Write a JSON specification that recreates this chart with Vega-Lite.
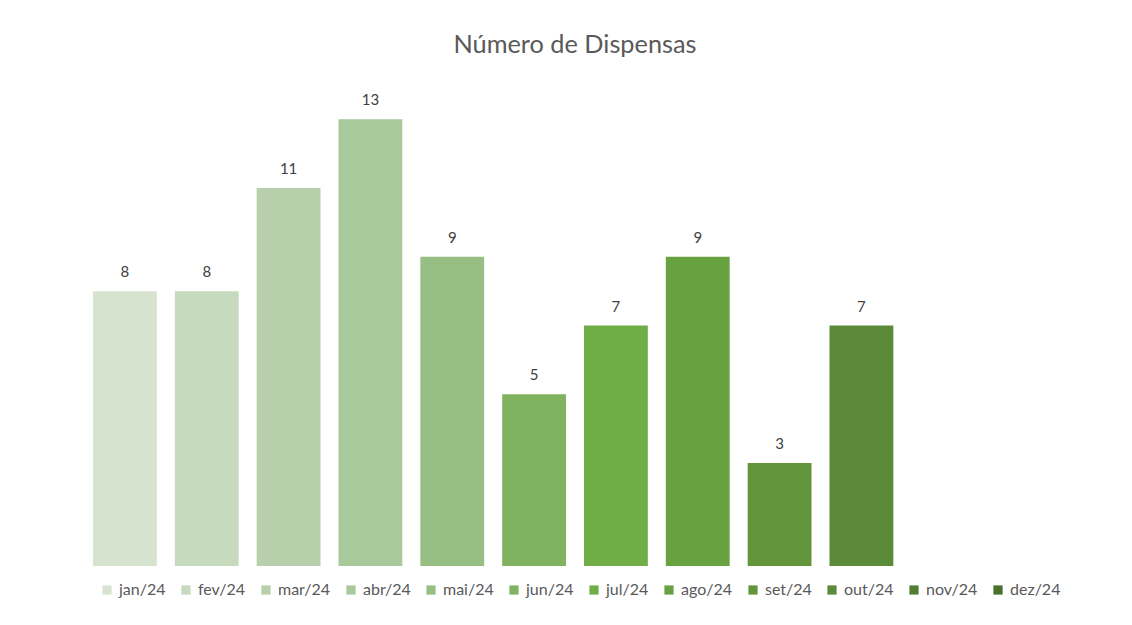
{
  "$schema": "https://vega.github.io/schema/vega-lite/v6.json",
  "width": 982,
  "height": 481,
  "autosize": {"type": "none"},
  "padding": {"left": 84, "top": 85, "right": 66, "bottom": 59},
  "background": "white",
  "title": {"text": "Número de Dispensas", "fontSize": 25.3, "font": "Lato", "fontWeight": "normal", "color": "#595959", "offset": 27, "anchor": "middle"},
  "config": {"view": {"stroke": null}},
  "data": {"values": [
    {"mes": "jan/24", "valor": 8},
    {"mes": "fev/24", "valor": 8},
    {"mes": "mar/24", "valor": 11},
    {"mes": "abr/24", "valor": 13},
    {"mes": "mai/24", "valor": 9},
    {"mes": "jun/24", "valor": 5},
    {"mes": "jul/24", "valor": 7},
    {"mes": "ago/24", "valor": 9},
    {"mes": "set/24", "valor": 3},
    {"mes": "out/24", "valor": 7},
    {"mes": "nov/24", "valor": null},
    {"mes": "dez/24", "valor": null}
  ]},
  "encoding": {
    "x": {"field": "mes", "type": "nominal", "sort": null, "axis": null,
      "scale": {"domain": ["jan/24","fev/24","mar/24","abr/24","mai/24","jun/24","jul/24","ago/24","set/24","out/24","nov/24","dez/24"], "paddingInner": 0.22, "paddingOuter": 0.11}},
    "y": {"field": "valor", "type": "quantitative", "axis": null, "scale": {"domain": [0, 14], "nice": false}}
  },
  "layer": [
    {
      "mark": {"type": "bar"},
      "encoding": {
        "color": {"field": "mes", "type": "nominal",
          "scale": {"domain": ["jan/24","fev/24","mar/24","abr/24","mai/24","jun/24","jul/24","ago/24","set/24","out/24","nov/24","dez/24"],
            "range": ["#d6e4cf","#c6dabd","#b7d0ab","#a8c99a","#97bf83","#80b35f","#70ad47","#68a140","#62953c","#5b8b38","#517f31","#4a702c"]},
          "legend": {"orient": "bottom", "direction": "horizontal", "title": null, "symbolType": "square", "symbolSize": 85, "symbolStrokeWidth": 0, "labelFontSize": 16, "labelFont": "Lato", "labelColor": "#595959", "columnPadding": 12, "labelOffset": 4, "offset": 1, "padding": 15}
        }
      }
    },
    {
      "mark": {"type": "text", "baseline": "bottom", "dy": -11, "fontSize": 15, "font": "Lato", "color": "#404040"},
      "encoding": {"text": {"field": "valor", "type": "quantitative"}}
    }
  ]
}
